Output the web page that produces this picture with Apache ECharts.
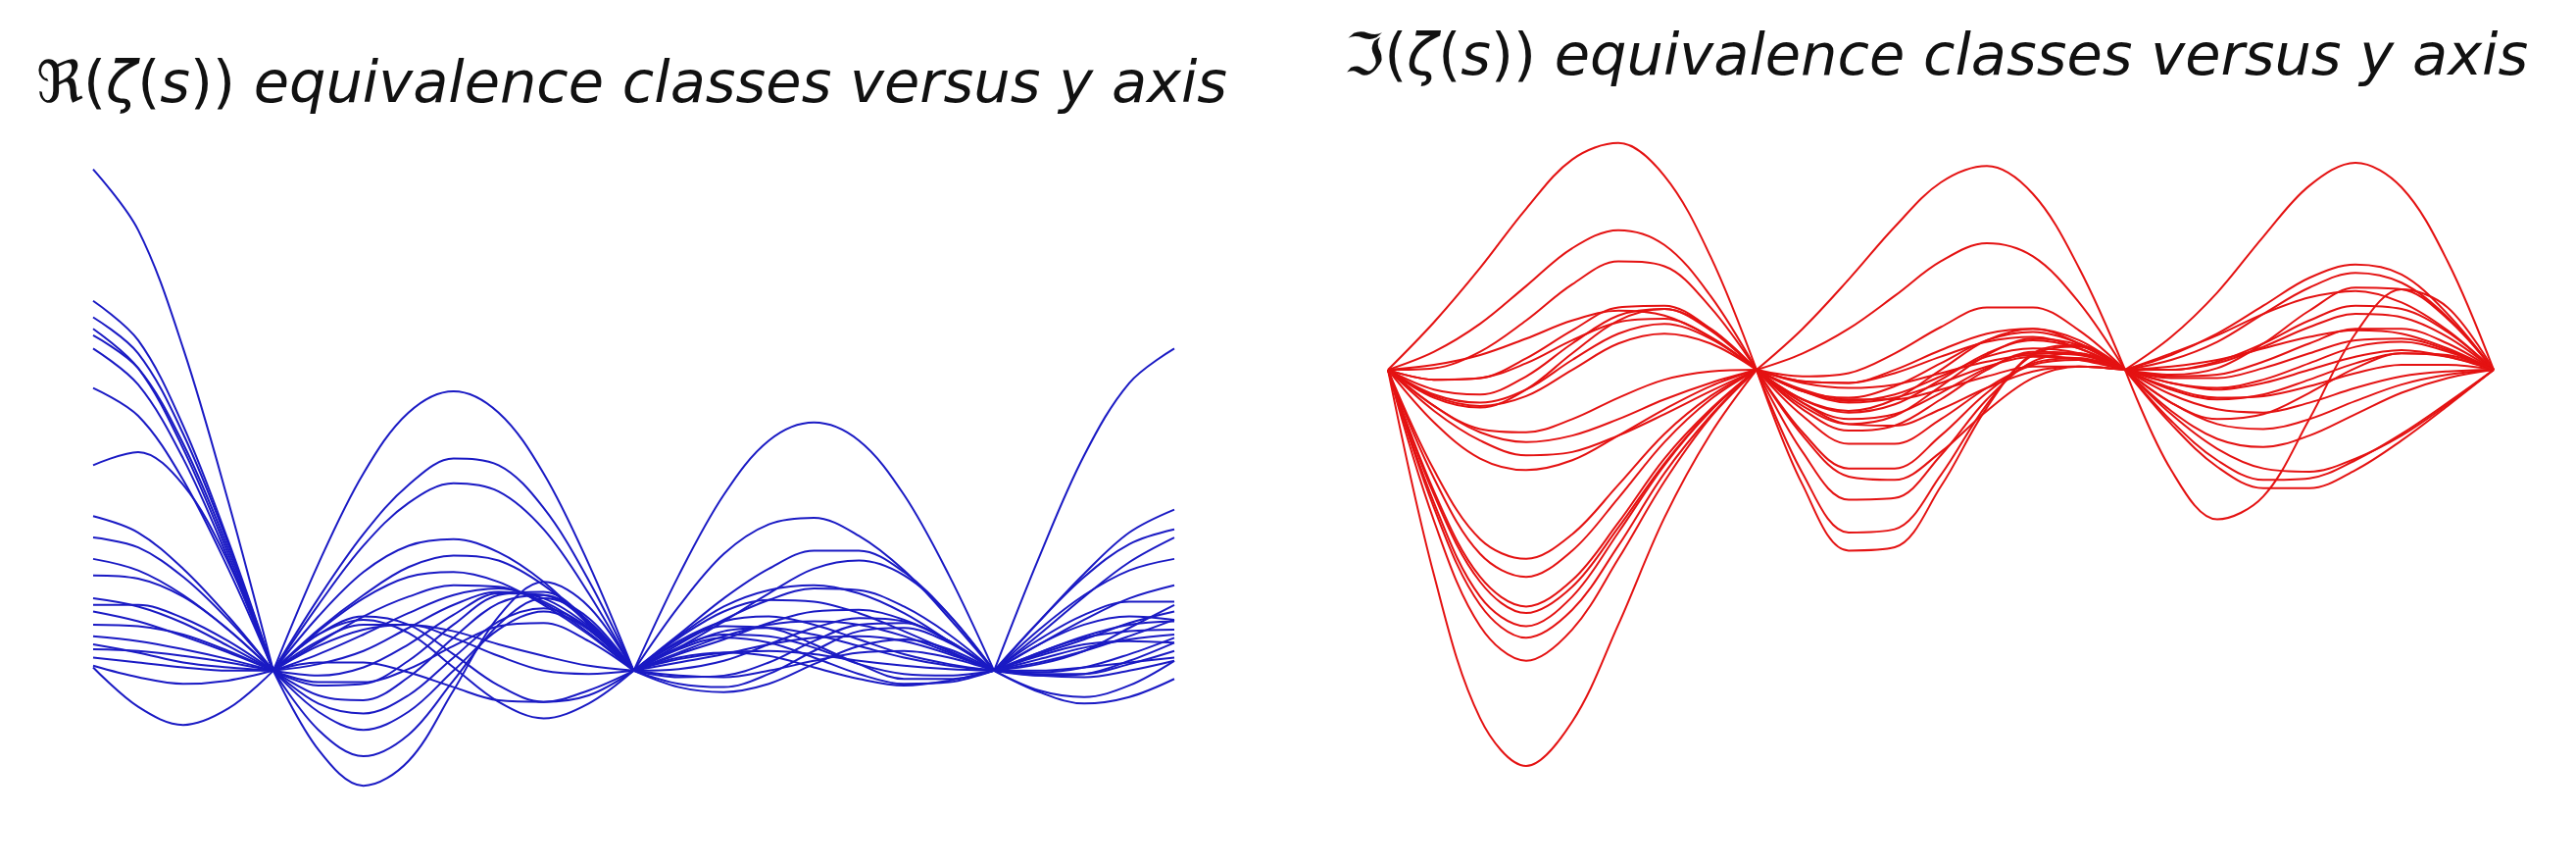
<!DOCTYPE html>
<html>
<head>
<meta charset="utf-8">
<script src="https://cdn.jsdelivr.net/npm/echarts@6/dist/echarts.min.js"></script>
<style>
  html, body { margin: 0; background: #fff; }
  #chart { width: 2628px; height: 883px; }
</style>
</head>
<body>
<div id="chart"></div>
<script>
// x positions in units of node spacing; every curve meets the others at integer x
const reX = [-0.5, -0.375, -0.25, -0.125, 0, 0.125, 0.25, 0.375, 0.5, 0.625, 0.75, 0.875,
  1, 1.125, 1.25, 1.375, 1.5, 1.625, 1.75, 1.875, 2, 2.125, 2.25, 2.375, 2.5];
const imX = [0, 0.125, 0.25, 0.375, 0.5, 0.625, 0.75, 0.875, 1, 1.125, 1.25, 1.375, 1.5,
  1.625, 1.75, 1.875, 2, 2.125, 2.25, 2.375, 2.5, 2.625, 2.75, 2.875, 3];

// Re(zeta(s)) curves
const reCurves = [
  [305, 268, 196, 103, 0, 65, 120, 157, 170, 157, 120, 65, 0, 58, 107, 140, 151, 140, 107, 58, 0, 69, 131, 175, 196],
  [225, 201, 149, 79, 0, 44, 83, 113, 129, 125, 99, 55, 0, 39, 71, 89, 93, 82, 61, 32, 0, 30, 59, 84, 98],
  [215, 193, 144, 77, 0, 40, 76, 102, 114, 109, 86, 47, 0, 22, 44, 62, 73, 73, 60, 34, 0, 30, 57, 77, 86],
  [208, 184, 135, 71, 0, 33, 60, 76, 80, 72, 54, 28, 0, 14, 30, 47, 62, 67, 58, 34, 0, 22, 45, 66, 81],
  [204, 184, 138, 74, 0, 25, 46, 63, 70, 67, 52, 29, 0, 21, 39, 49, 52, 47, 35, 18, 0, 25, 46, 61, 68],
  [196, 174, 129, 68, 0, 24, 44, 57, 60, 54, 40, 22, 0, 16, 31, 43, 50, 49, 39, 22, 0, 16, 31, 44, 52],
  [172, 155, 116, 62, 0, 17, 33, 45, 52, 51, 41, 23, 0, 20, 36, 43, 42, 35, 24, 12, 0, 19, 34, 42, 42],
  [125, 133, 113, 66, 0, 10, 22, 35, 46, 50, 42, 25, 0, 10, 19, 29, 36, 37, 31, 18, 0, 10, 19, 29, 36],
  [94, 84, 62, 33, 0, 4, 12, 26, 40, 48, 44, 27, 0, 11, 21, 28, 30, 28, 21, 11, 0, 16, 28, 33, 31],
  [81, 75, 57, 31, 0, -3, 2, 16, 34, 47, 46, 29, 0, 1, 6, 16, 26, 32, 30, 18, 0, 5, 12, 21, 31],
  [68, 61, 46, 25, 0, -9, -8, 6, 28, 46, 48, 30, 0, 14, 24, 26, 22, 15, 8, 3, 0, 11, 20, 24, 25],
  [58, 56, 45, 25, 0, -15, -18, -4, 20, 41, 46, 30, 0, -4, -3, 5, 18, 28, 29, 18, 0, -1, 2, 10, 20],
  [44, 39, 29, 15, 0, -20, -26, -15, 8, 30, 38, 26, 0, 14, 22, 21, 14, 4, -2, -3, 0, 9, 16, 18, 17],
  [40, 40, 32, 18, 0, -25, -36, -25, 0, 25, 36, 25, 0, -8, -10, -2, 12, 24, 26, 17, 0, -3, -2, 6, 17],
  [36, 30, 21, 11, 0, -36, -52, -39, -6, 28, 44, 32, 0, 13, 20, 17, 8, -2, -8, -7, 0, -2, -2, 4, 12],
  [28, 27, 22, 12, 0, -48, -70, -55, -12, 33, 54, 39, 0, -10, -13, -8, 4, 15, 19, 13, 0, 0, 2, 5, 8],
  [21, 18, 13, 7, 0, 22, 33, 28, 10, -9, -19, -15, 0, 5, 10, 16, 20, 21, 18, 10, 0, -12, -16, -9, 6],
  [16, 11, 5, 2, 0, 22, 31, 23, 2, -19, -29, -20, 0, 7, 11, 12, 10, 6, 3, 1, 0, -3, -4, 0, 6],
  [13, 12, 9, 5, 0, 18, 28, 28, 20, 9, 0, -2, 0, 17, 27, 26, 16, 4, -5, -5, 0, -13, -20, -16, -5],
  [8, 5, 2, 0, 0, 5, 5, -1, -10, -18, -19, -12, 0, -3, -4, 0, 6, 11, 12, 8, 0, 4, 12, 26, 40],
  [3, -4, -8, -6, 0, -7, -7, 1, 15, 27, 29, 18, 0, 18, 30, 33, 28, 19, 10, 4, 0, 11, 21, 28, 30],
  [2, -22, -33, -23, 0, 15, 25, 28, 24, 16, 9, 3, 0, 8, 11, 9, 2, -5, -9, -6, 0, 7, 14, 19, 22]
];

// Im(zeta(s)) curves
const imCurves = [
  [0, 29, 62, 98, 128, 138, 118, 69, 0, 25, 55, 87, 114, 124, 107, 62, 0, 20, 47, 81, 112, 126, 111, 66, 0],
  [0, 11, 28, 51, 74, 85, 76, 45, 0, 10, 25, 45, 66, 77, 69, 41, 0, 9, 22, 39, 56, 64, 58, 34, 0],
  [0, 1, 11, 30, 52, 66, 63, 38, 0, -4, -2, 10, 26, 38, 38, 24, 0, 6, 17, 34, 50, 59, 53, 32, 0],
  [0, 3, 9, 19, 30, 36, 33, 20, 0, -7, -8, 0, 12, 22, 25, 16, 0, 10, 21, 34, 44, 48, 41, 24, 0],
  [0, -6, -5, 7, 24, 38, 39, 25, 0, -7, -8, -2, 8, 17, 20, 13, 0, -3, 1, 16, 36, 50, 49, 31, 0],
  [0, -12, -15, -4, 16, 33, 37, 24, 0, -13, -17, -10, 4, 18, 23, 16, 0, 0, 5, 16, 30, 39, 37, 23, 0],
  [0, -17, -23, -12, 10, 30, 37, 25, 0, -18, -25, -18, 0, 18, 25, 18, 0, 0, 4, 14, 26, 34, 32, 20, 0],
  [0, -6, -5, 4, 18, 29, 31, 20, 0, -8, -11, -9, -2, 5, 9, 6, 0, 2, 6, 13, 20, 24, 22, 13, 0],
  [0, -15, -20, -12, 6, 22, 28, 19, 0, -13, -19, -15, -4, 8, 13, 10, 0, -4, -3, 5, 16, 25, 25, 16, 0],
  [0, -16, -22, -16, 0, 16, 22, 16, 0, -18, -26, -21, -6, 10, 18, 13, 0, -5, -5, 1, 10, 18, 19, 12, 0],
  [0, -22, -36, -38, -30, -17, -6, -1, 0, -13, -20, -17, -8, 2, 8, 7, 0, -8, -11, -6, 4, 14, 17, 11, 0],
  [0, -22, -38, -44, -40, -30, -18, -8, 0, -22, -33, -28, -10, 9, 19, 15, 0, -8, -12, -8, 0, 8, 12, 8, 0],
  [0, -25, -43, -52, -50, -40, -27, -13, 0, -12, -18, -18, -12, -4, 2, 2, 0, -12, -18, -15, -6, 4, 10, 8, 0],
  [0, -32, -54, -61, -55, -40, -24, -10, 0, -20, -30, -27, -14, 1, 10, 9, 0, -11, -17, -16, -10, -2, 3, 3, 0],
  [0, -61, -103, -115, -100, -70, -39, -16, 0, -24, -37, -34, -18, 0, 11, 10, 0, -20, -30, -27, -14, 1, 10, 9, 0],
  [0, -66, -112, -126, -110, -78, -44, -18, 0, -20, -33, -34, -24, -11, -1, 2, 0, -15, -24, -26, -20, -11, -4, -1, 0],
  [0, -74, -126, -144, -128, -93, -54, -24, 0, -28, -45, -45, -30, -11, 3, 6, 0, -20, -33, -36, -30, -19, -9, -3, 0],
  [0, -76, -129, -148, -132, -96, -57, -25, 0, -38, -60, -60, -40, -14, 4, 7, 0, -25, -42, -47, -40, -27, -14, -5, 0],
  [0, -81, -138, -156, -138, -99, -58, -25, 0, -40, -65, -67, -50, -25, -5, 2, 0, -61, -91, -77, -30, 22, 49, 38, 0],
  [0, -84, -143, -163, -146, -107, -63, -28, 0, -50, -79, -78, -52, -18, 5, 10, 0, -27, -48, -60, -62, -54, -40, -21, 0],
  [0, -92, -156, -177, -158, -115, -68, -29, 0, -63, -99, -97, -64, -21, 9, 14, 0, -31, -55, -67, -66, -55, -39, -20, 0],
  [0, -125, -212, -241, -214, -155, -90, -39, 0, -70, -110, -108, -71, -23, 10, 15, 0, -33, -59, -72, -72, -61, -43, -22, 0]
];

const reTitle = '{r|ℜ(}{i|ζ}{r|(}{i|s}{r|))}{i| equivalence classes versus y axis}';
const imTitle = '{r|ℑ(}{i|ζ}{r|(}{i|s}{r|))}{i| equivalence classes versus y axis}';

// split every curve at the nodes so each arc is drawn on its own
function arcs(xs, curves, axis, color) {
  const cuts = [];
  xs.forEach((x, i) => { if (Number.isInteger(x)) cuts.push(i); });
  if (cuts[0] !== 0) cuts.unshift(0);
  if (cuts[cuts.length - 1] !== xs.length - 1) cuts.push(xs.length - 1);
  const out = [];
  curves.forEach(c => {
    for (let k = 0; k < cuts.length - 1; k++) {
      const data = [];
      for (let i = cuts[k]; i <= cuts[k + 1]; i++) data.push([xs[i], c[i]]);
      out.push({
        type: 'line', xAxisIndex: axis, yAxisIndex: axis, data,
        smooth: 0.35, symbol: 'none', silent: true,
        lineStyle: { color, width: 2 },
      });
    }
  });
  return out;
}

const font = { fontFamily: 'DejaVu Sans', fontSize: 59, fontWeight: 'normal', color: '#111' };
const rich = {
  r: { ...font, fontStyle: 'normal' },
  i: { ...font, fontStyle: 'italic' },
};

const chart = echarts.init(document.getElementById('chart'));
chart.setOption({
  animation: false,
  backgroundColor: '#fff',
  title: [
    { text: reTitle, left: 37, top: 59, padding: 0, textStyle: { ...font, rich } },
    { text: imTitle, left: 1371, top: 31, padding: 0, textStyle: { ...font, rich } },
  ],
  grid: [
    { left: 95, top: 150, width: 1103, height: 680 },
    { left: 1416, top: 120, width: 1128, height: 700 },
  ],
  xAxis: [
    { type: 'value', gridIndex: 0, min: -0.5, max: 2.5, show: false },
    { type: 'value', gridIndex: 1, min: 0, max: 3, show: false },
  ],
  yAxis: [
    { type: 'value', gridIndex: 0, min: -87.2, max: 318.5, show: false },
    { type: 'value', gridIndex: 1, min: -264.3, max: 153.4, show: false },
  ],
  series: [
    ...arcs(reX, reCurves, 0, '#1a1ac4'),
    ...arcs(imX, imCurves, 1, '#e41212'),
  ],
});
</script>
</body>
</html>
